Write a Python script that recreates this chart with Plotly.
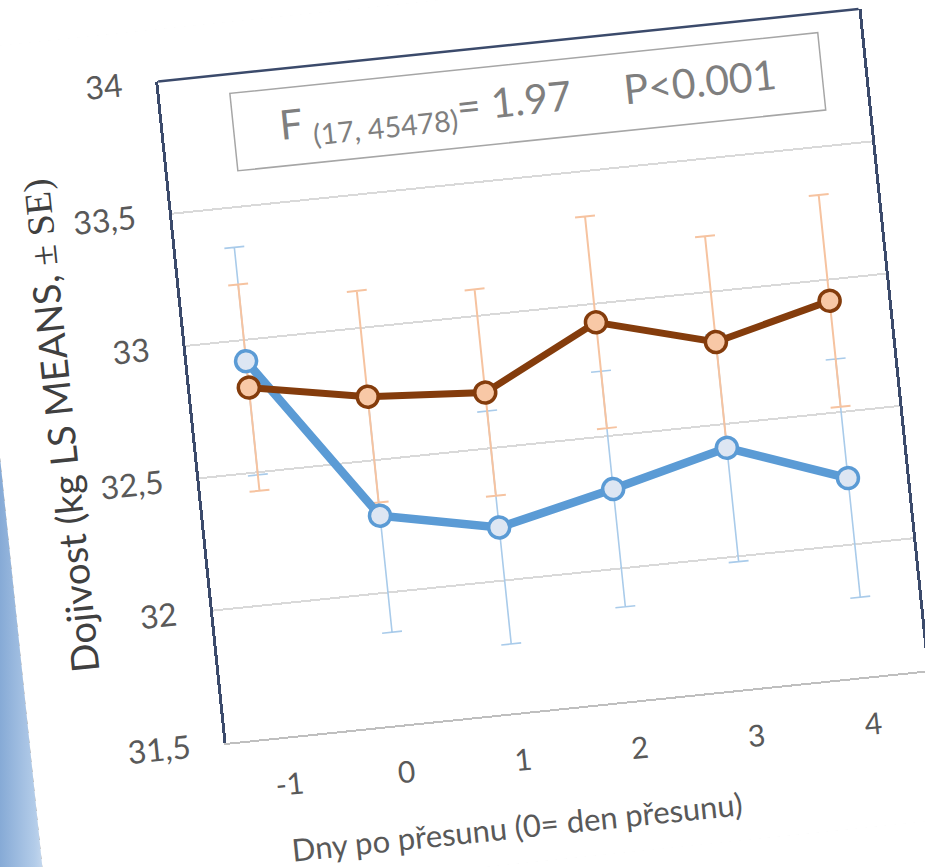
import plotly.graph_objects as go

# ---- data ----
days = [-1, 0, 1, 2, 3, 4]
tick_text = ["-1", "0", "1", "2", "3", "4"]

blue_mean = [32.92, 32.29, 32.20, 32.30, 32.41, 32.25]
blue_se = [0.43, 0.44, 0.44, 0.445, 0.43, 0.45]

brown_mean = [32.82, 32.74, 32.71, 32.93, 32.81, 32.92]
brown_se = [0.39, 0.40, 0.39, 0.40, 0.40, 0.40]

y_ticks = [31.5, 32, 32.5, 33, 33.5, 34]

FONT = "Lato"
BLUE = "#5B9BD5"
BROWN = "#843C0C"

fig = go.Figure()

# error bars first (behind the lines)
fig.add_trace(go.Scatter(
    x=days, y=blue_mean, mode="none", showlegend=False, hoverinfo="skip",
    error_y=dict(type="data", array=blue_se, visible=True,
                 color="#A9CBEA", thickness=1.6, width=10),
))
fig.add_trace(go.Scatter(
    x=days, y=brown_mean, mode="none", showlegend=False, hoverinfo="skip",
    error_y=dict(type="data", array=brown_se, visible=True,
                 color="#F6C3A0", thickness=2, width=10),
))

fig.add_trace(go.Scatter(
    x=days, y=blue_mean, mode="lines+markers", name="blue",
    line=dict(color=BLUE, width=8.5),
    marker=dict(symbol="circle", size=21, color="#DDE6F3",
                line=dict(color=BLUE, width=3.5)),
    showlegend=False,
))
fig.add_trace(go.Scatter(
    x=days, y=brown_mean, mode="lines+markers", name="brown",
    line=dict(color=BROWN, width=7),
    marker=dict(symbol="circle", size=21, color="#F8C8A6",
                line=dict(color=BROWN, width=3.5)),
    showlegend=False,
))

fig.update_layout(
    width=925, height=867,
    margin=dict(l=196, r=25, t=52, b=150),
    paper_bgcolor="white", plot_bgcolor="white",
    separators=", ",
    font=dict(family=FONT, color="#595959"),
    showlegend=False,
    xaxis=dict(
        range=[-1.5, 4.5], tickmode="array", tickvals=days, ticktext=tick_text,
        showgrid=False, zeroline=False,
        showline=True, linecolor="#BFBFBF", linewidth=2,
        ticks="", tickfont=dict(size=30, color="#595959"),
        ticklabelstandoff=20,
    ),
    yaxis=dict(
        range=[31.5, 34], tickmode="array", tickvals=y_ticks,
        showgrid=True, gridcolor="#D9D9D9", gridwidth=2,
        zeroline=False,
        showline=True, linecolor="#3B4A6B", linewidth=2.5, mirror=True,
        ticks="", tickfont=dict(size=32, color="#595959"),
        ticklabelstandoff=27,
        title=dict(
            text="Dojivost (kg LS MEANS, <span style='font-family:Liberation Serif'>± SE)</span>",
            font=dict(size=38, color="#404040"), standoff=8,
        ),
    ),
    shapes=[
        # top border of plot area
        dict(type="line", xref="paper", yref="paper", x0=0, x1=1, y0=1, y1=1,
             line=dict(color="#3B4A6B", width=2.5)),
        # statistics box
        dict(type="rect", xref="paper", yref="paper",
             x0=0.0995, x1=0.939, y0=0.854, y1=0.971,
             line=dict(color="#A6A6A6", width=1.5), fillcolor="white"),
    ],
    annotations=[
        dict(xref="paper", yref="paper", x=0.519, y=0.9125,
             xanchor="center", yanchor="middle", showarrow=False,
             text="F <sub>(17, 45478)</sub>= 1.97&nbsp;&nbsp;&nbsp;&nbsp; P&lt;0.001",
             font=dict(size=41, color="#7F7F7F", family=FONT)),
        dict(xref="paper", yref="paper", x=0.398, y=-0.17,
             xanchor="center", yanchor="middle", showarrow=False,
             text="Dny po přesunu (0= den přesunu)",
             font=dict(size=31, color="#595959", family=FONT)),
    ],
)

post = """
var d = document.getElementById('{plot_id}');
document.documentElement.style.overflow = 'hidden';
document.documentElement.style.background = '#ffffff';
document.body.style.margin = '0';
document.body.style.overflow = 'hidden';
document.body.style.height = '867px';
document.body.style.background = 'linear-gradient(to bottom, #ffffff 0px, #ffffff 360px, rgba(255,255,255,0) 360px), linear-gradient(to right, #86AAD6 0px, #B3CCE9 35px, #ffffff 70px)';
d.style.transformOrigin = '462.5px 433.5px';
d.style.transform = 'rotate(-5.9deg)';
d.style.boxShadow = 'inset 2px 0px 1px -1px rgba(70,70,70,0.6)';
"""

fig.write_html("out.html", config={"displayModeBar": False}, post_script=post)
